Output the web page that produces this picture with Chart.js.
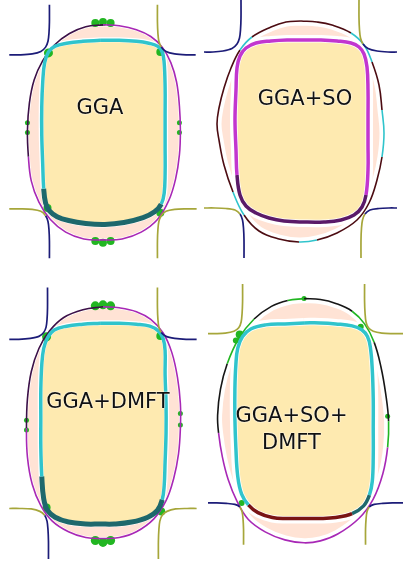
<!DOCTYPE html>
<html><head><meta charset="utf-8">
<script src="https://cdn.jsdelivr.net/npm/chart.js@4/dist/chart.umd.min.js"></script>
<style>
html,body{margin:0;padding:0;background:#fff;width:407px;height:576px;overflow:hidden;position:relative;}
.panel{position:absolute;}
.panel canvas{display:block;}
.lbl{position:absolute;font-family:'DejaVu Sans',sans-serif;font-size:21px;color:#111;text-align:center;line-height:27px;transform:translate(-50%,-50%);white-space:nowrap;text-shadow:0 0 2px #fff,0 0 1px #fff;}
</style></head>
<body>
<script>
// ---------- DATA (panel-local k-grid coordinates) ----------
const panelLabels = [['GGA'], ['GGA+SO'], ['GGA+DMFT'], ['GGA+SO+', 'DMFT']];

// Panel 1: GGA
const outerGGA = [[103,21],[120,22],[138,26],[153,33],[165,44],[174,60],[180,80],[183,105],[184,130],[183,155],[179,180],[172,202],[160,222],[143,235],[123,242],[103,243],[83,242],[64,235],[48,222],[36,204],[28,182],[25,157],[24,130],[26,102],[31,78],[40,58],[52,42],[68,30],[85,23],[103,21]];
const innerGGA = [[100,37],[120,37],[138,38],[151,40],[160,43],[165,49],[167,60],[168,85],[168,115],[168,145],[168,175],[167,195],[164,206],[157,214],[145,220],[125,225],[105,227],[85,226],[67,223],[55,219],[47,213],[43,205],[41,190],[40,165],[39,135],[39,105],[40,80],[42,60],[46,49],[53,43],[65,40],[82,38],[100,37]];
const pocketsGGA = [
  [[47,0],[47,18],[46.5,30],[45.5,38],[43,44],[38,48.5],[29,51],[17,52],[5,52]],
  [[160,0],[160,18],[160.5,30],[161.5,38],[164,44],[169,48.5],[178,51],[190,52],[200,52]],
  [[47,262],[47,244],[46.5,232],[45.5,224],[43,218],[38,213.5],[29,211.5],[17,211],[5,211]],
  [[160,262],[160,244],[160.5,232],[161.5,224],[164,218],[169,213.5],[178,211.5],[190,211],[201,211]]
];
const blobsGGA = [[95,19],[103,18],[111,19],[95,244],[103,246],[111,244],[24,122],[24,132],[183,122],[183,132],[46,50],[163,49],[45,210],[163,215]];

// Panel 2: GGA+SO
const outerSO = [[97,21],[113,22],[128,25],[147,33],[160,45],[168,62],[175,85],[178,110],[180,133],[178,157],[173,180],[165,203],[153,220],[133,233],[113,240],[95,242],[75,239],[55,231],[40,215],[29,192],[20,165],[15,140],[13,124],[15,108],[20,88],[27,68],[36,50],[48,37],[67,27],[82,22],[97,21]];
const innerSO = [[100,40],[117,40],[133,41],[147,43],[155,47],[160,54],[163,67],[164,90],[164,117],[164,145],[164,170],[162,195],[158,207],[150,215],[137,220],[120,222],[100,222],[80,221],[65,218],[52,213],[42,206],[36,195],[33,175],[32,150],[31,120],[32,90],[33,68],[36,56],[42,48],[52,43],[67,41],[83,40],[100,40]];
const pocketsSO = [
  [[37,0],[37,18],[36.5,30],[35.5,38],[33,44],[28,48.5],[19,51],[9,52],[0,52]],
  [[155,0],[155,18],[155.5,30],[156.5,38],[159,44],[164,48.5],[173,51],[184,52],[193,52]],
  [[40,258],[40,240],[39.5,228],[38.5,220],[36,214],[31,210],[22,208.5],[11,208],[0,208]],
  [[157,258],[157,240],[157.5,228],[158.5,220],[161,214],[166,210],[175,208.5],[185,208],[193,208]]
];
const blobsSO = [];

// Panel 3: GGA+DMFT
const outerDMFT = [[103,15],[120,16],[138,20],[153,28],[166,42],[175,62],[181,88],[184,115],[184,140],[182,167],[177,192],[169,215],[156,234],[138,247],[120,253],[103,254],[85,253],[67,247],[50,236],[38,220],[29,198],[24,170],[23,140],[24,110],[28,82],[36,58],[47,40],[62,26],[82,18],[103,15]];
const innerDMFT = [[100,32],[120,32],[138,33],[152,35],[161,40],[166,48],[168,60],[168,85],[169,115],[169,145],[168,175],[167,200],[165,214],[160,225],[150,232],[133,237],[115,239],[100,239],[85,239],[67,237],[53,232],[45,225],[41,213],[39,190],[38,160],[38,130],[38,100],[39,75],[41,58],[45,47],[52,39],[65,35],[82,33],[100,32]];
const pocketsDMFT = [
  [[45,-5],[45,16],[44.5,28],[43.5,36],[41,41.5],[36,45.5],[27,47.5],[15,48.5],[5,48.5]],
  [[160,-5],[160,16],[160.5,28],[161.5,36],[164,41.5],[169,45.5],[178,47.5],[190,48.5],[201,48.5]],
  [[46,275],[46,257],[45.5,245],[44.5,236],[42,230],[37,226],[28,223.5],[16,223],[5,223]],
  [[161,275],[161,257],[161.5,245],[162.5,236],[165,230],[170,226],[179,223.5],[191,223],[201,223]]
];
const blobsDMFT = [[95,14],[103,13],[111,14],[95,256],[103,258],[111,256],[23,132],[23,142],[184,125],[184,137],[44,46],[163,45],[44,222],[164,226]];

// Panel 4: GGA+SO+DMFT
const outerSODMFT = [[100,7],[117,8],[133,12],[150,20],[163,33],[173,52],[180,77],[185,105],[188,133],[187,160],[182,187],[172,213],[157,233],[135,249],[117,256],[100,258],[80,255],[60,247],[42,234],[30,215],[21,193],[15,170],[11,145],[10,127],[13,100],[20,74],[32,48],[48,28],[66,15],[83,9],[100,7]];
const innerSODMFT = [[100,32],[117,32],[133,33],[150,35],[160,39],[166,46],[169,57],[171,80],[172,110],[172,140],[172,170],[171,195],[168,209],[162,220],[150,228],[133,232],[115,233],[100,233],[82,233],[67,232],[52,227],[42,219],[35,208],[31,190],[29,160],[28,130],[28,100],[29,75],[31,58],[36,46],[45,38],[60,34],[80,33],[100,32]];
const pocketsSODMFT = [
  [[36,-8],[36,10],[35.5,22],[34.5,31],[32,37],[27,40.5],[18,42.5],[8,43],[0,43]],
  [[163,-8],[163,10],[163.5,22],[164.5,31],[167,37],[172,40.5],[181,42.5],[191,43],[203,43]],
  [[37,260],[37,244],[36.5,234],[35.5,226],[33,221],[28,218.5],[19,217.5],[9,217],[0,217]],
  [[164,260],[164,244],[164.5,234],[165.5,226],[168,221],[173,218.5],[182,217.5],[192,217],[203,217]]
];
const blobsSODMFT = [[33,44],[29,50],[100,7],[159,36],[187,128],[35,217]];

// ---------- STYLE / LAYOUT ----------
const C = {
  pink:'#ffe3d5', yellow:'#feeab0', navy:'#1c1c78', olive:'#a6a63a',
  mag:'#a828b6', dpur:'#3c1048', cyan:'#30c4cc', teal:'#1e686c',
  dred:'#4c0c12', red:'#7a1414', blk:'#161616', green:'#22b622', mag2:'#c236cf', pur2:'#5a1a68'
};
const panels = [
  {left:0, top:0, w:204, h:288, ymin:0, ymax:288, outer:outerGGA, inner:innerGGA, pockets:pocketsGGA, blobs:blobsGGA,
   blobR:[4,4,4,4,4,4,2.5,2.5,2.5,2.5,4.5,4,4,4],
   outerRuns:[[0,C.mag],[21,C.dpur]], innerRuns:[[0,C.cyan],[12,C.teal],[22,C.cyan]], innerWRuns:[[0,3.5],[12,5],[22,3.5]],
   pocketCols:[[C.navy,C.navy],[C.olive,C.navy],[C.navy,C.olive],[C.olive,C.olive]],
   outerBand:3, innerBandOut:6, innerBandIn:4, label:[100,107]},
  {left:204, top:0, w:203, h:288, ymin:0, ymax:288, outer:outerSO, inner:innerSO, pockets:pocketsSO, blobs:blobsSO, blobR:[],
   outerRuns:[[0,C.dred],[3,C.cyan],[5,C.dred],[7,C.cyan],[9,C.dred],[14,C.cyan],[15,C.dred],[18,C.cyan],[19,C.dred],[26,C.cyan],[27,C.dred]],
   innerRuns:[[0,C.mag2],[11,C.pur2],[22,C.mag2]], innerWRuns:[[0,3.5]],
   pocketCols:[[C.navy,C.navy],[C.olive,C.navy],[C.navy,C.olive],[C.olive,C.navy]],
   outerBand:9, innerBandOut:10, innerBandIn:5, label:[305,98]},
  {left:0, top:280, w:204, h:296, ymin:-8, ymax:288, outer:outerDMFT, inner:innerDMFT, pockets:pocketsDMFT, blobs:blobsDMFT,
   blobR:[4.5,4.5,4.5,4.5,4.5,4.5,2.5,2.5,2.5,2.5,4.5,4,4,4],
   outerRuns:[[0,C.mag],[22,C.dpur]], innerRuns:[[0,C.cyan],[12,C.teal],[23,C.cyan]], innerWRuns:[[0,3.5],[12,5],[23,3.5]],
   pocketCols:[[C.navy,C.navy],[C.olive,C.navy],[C.navy,C.olive],[C.olive,C.olive]],
   outerBand:3, innerBandOut:6, innerBandIn:4, label:[108,401]},
  {left:204, top:280, w:203, h:296, ymin:-8, ymax:288, outer:outerSODMFT, inner:innerSODMFT, pockets:pocketsSODMFT, blobs:blobsSODMFT,
   blobR:[4,3,2.5,3,2.5,3],
   outerRuns:[[0,C.blk],[3,C.green],[5,C.blk],[8,C.green],[9,C.mag],[22,C.blk],[25,C.green],[27,C.blk],[29,C.green]],
   innerRuns:[[0,C.cyan],[12,C.teal],[14,C.red],[21,C.cyan]], innerWRuns:[[0,3.5]],
   pocketCols:[[C.olive,C.olive],[C.olive,C.olive],[C.olive,C.navy],[C.olive,C.navy]],
   outerBand:9, innerBandOut:10, innerBandIn:5, label:[291.5,428.5]}
];

function pts(a){ return a.map(p => ({x:p[0], y:p[1]})); }
function runFn(runs){ return ctx => { let v = runs[0][1]; for (const r of runs){ if (ctx.p0DataIndex >= r[0]) v = r[1]; } return v; }; }

panels.forEach((P, k) => {
  const div = document.createElement('div');
  div.className = 'panel';
  div.style.left = P.left + 'px'; div.style.top = P.top + 'px';
  div.style.width = P.w + 'px'; div.style.height = P.h + 'px';
  const cv = document.createElement('canvas');
  cv.width = P.w; cv.height = P.h;
  div.appendChild(cv); document.body.appendChild(div);

  const layers = [];
  const line = (data, extra) => Object.assign({type:'line', data:pts(data), pointRadius:0, tension:0.4, fill:false, borderWidth:0, borderColor:'rgba(0,0,0,0)', spanGaps:true}, extra);
  layers.push(line(P.outer, {fill:'shape', backgroundColor:C.pink}));
  layers.push(line(P.outer, {borderColor:'#fff', borderWidth:P.outerBand}));
  layers.push(line(P.inner, {borderColor:'#fff', borderWidth:P.innerBandOut}));
  layers.push(line(P.inner, {fill:'shape', backgroundColor:C.yellow}));
  layers.push(line(P.inner, {borderColor:'#fff', borderWidth:P.innerBandIn}));
  if (P.blobs.length) layers.push({type:'bubble', data:P.blobs.map((b,i)=>({x:b[0], y:b[1], r:P.blobR[i]})), backgroundColor:C.green, borderWidth:0});
  layers.push(line(P.outer, {borderWidth:1.6, borderColor:P.outerRuns[0][1], segment:{borderColor:runFn(P.outerRuns)}}));
  layers.push(line(P.inner, {borderWidth:3.5, borderColor:P.innerRuns[0][1], segment:{borderColor:runFn(P.innerRuns), borderWidth:runFn(P.innerWRuns)}}));
  P.pockets.forEach((pk, j) => {
    const cols = P.pocketCols[j];
    layers.push(line(pk, {tension:0.3, borderWidth:1.7, borderColor:cols[0], segment:{borderColor:ctx => ctx.p0DataIndex < 4 ? cols[0] : cols[1]}}));
  });
  layers.forEach((d, i) => { d.order = -i; });

  new Chart(cv, {
    type:'line',
    data:{datasets:layers},
    options:{
      responsive:false, animation:false, events:[],
      layout:{padding:0},
      plugins:{legend:{display:false}, tooltip:{enabled:false}, title:{display:false}},
      scales:{
        x:{type:'linear', min:0, max:P.w, display:false},
        y:{type:'linear', min:P.ymin, max:P.ymax, reverse:true, display:false}
      }
    }
  });

  const lb = document.createElement('div');
  lb.className = 'lbl';
  lb.style.left = P.label[0] + 'px'; lb.style.top = P.label[1] + 'px';
  lb.innerHTML = panelLabels[k].join('<br>');
  document.body.appendChild(lb);
});
</script>
</body></html>
